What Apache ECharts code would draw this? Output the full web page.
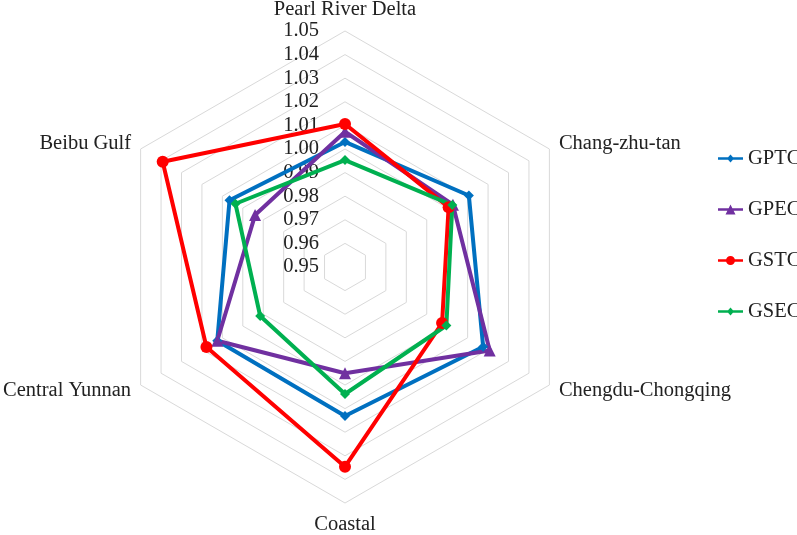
<!DOCTYPE html>
<html>
<head>
<meta charset="utf-8">
<script src="https://cdn.jsdelivr.net/npm/echarts@6/dist/echarts.min.js"></script>
<style>html,body{margin:0;padding:0;background:#fff}#c{width:797px;height:535px}</style>
</head>
<body>
<div id="c"></div>
<script>
// Categories in clockwise order starting from the top
const categories = ['Pearl River Delta', 'Chang-zhu-tan', 'Chengdu-Chongqing', 'Coastal', 'Central Yunnan', 'Beibu Gulf'];
const seriesNames = ['GPTC', 'GPEC', 'GSTC', 'GSEC'];
const GPTC = [1.0030, 1.0106, 1.0176, 1.0131, 1.0125, 1.0065];
const GPEC = [1.0073, 1.0028, 1.0208, 0.9950, 1.0125, 0.9940];
const GSTC = [1.0106, 1.0007, 0.9975, 1.0346, 1.0178, 1.0392];
const GSEC = [0.9953, 1.0025, 0.9996, 1.0038, 0.9915, 1.0036];
const axisMin = 0.95, axisMax = 1.05, axisSplits = 10;

const FONT = '"Liberation Serif", "Times New Roman", serif';
const FS = 20.5;
const TEXT = '#222';
const colors = ['#0070C0', '#7030A0', '#FF0000', '#00B050'];
const symbols = ['diamond', 'triangle', 'circle', 'diamond'];
const symbolSizes = [10, 12, 12, 10];
const legendIcons = [
  'path://M0,3.8L25,3.8L25,6.2L0,6.2Z M12.5,1L16,5L12.5,9L9,5Z',
  'path://M0,3.8L25,3.8L25,6.2L0,6.2Z M12.5,0L17.5,10L7.5,10Z',
  'path://M0,3.8L25,3.8L25,6.2L0,6.2Z M8,5A4.5,4.5 0 1,1 17,5A4.5,4.5 0 1,1 8,5Z',
  'path://M0,3.8L25,3.8L25,6.2L0,6.2Z M12.5,1L16,5L12.5,9L9,5Z'
];

// ECharts radar runs counter-clockwise; reorder so the picture runs clockwise
const order = [0, 5, 4, 3, 2, 1];
const reorder = arr => order.map(i => arr[i]);
const allValues = [GPTC, GPEC, GSTC, GSEC];

const indicator = order.map((i, k) => {
  const ind = { name: categories[i], min: axisMin, max: axisMax };
  if (k === 0) {
    ind.axisLabel = {
      show: true, margin: 26, color: TEXT, fontFamily: FONT, fontSize: FS,
      showMinLabel: true, showMaxLabel: true,
      formatter: v => Number(v).toFixed(2)
    };
  }
  return ind;
});

const chart = echarts.init(document.getElementById('c'), null, { renderer: 'canvas' });
chart.setOption({
  backgroundColor: '#fff',
  animation: false,
  color: colors,
  legend: {
    orient: 'vertical',
    left: 713,
    top: 143,
    itemWidth: 25,
    itemHeight: 10,
    itemGap: 30,
    textStyle: { color: TEXT, fontFamily: FONT, fontSize: FS, lineHeight: 20 },
    data: seriesNames.map((n, i) => ({ name: n, icon: legendIcons[i] }))
  },
  radar: {
    center: [345, 267],
    radius: 236,
    startAngle: 90,
    splitNumber: axisSplits,
    shape: 'polygon',
    nameGap: 11,
    axisName: { color: TEXT, fontFamily: FONT, fontSize: FS },
    axisLine: { show: false },
    axisTick: { show: false },
    axisLabel: { show: false },
    splitLine: { lineStyle: { color: '#d9d9d9', width: 1 } },
    splitArea: { show: false },
    indicator: indicator
  },
  series: [{
    type: 'radar',
    data: seriesNames.map((n, i) => ({
      name: n,
      value: reorder(allValues[i]),
      symbol: symbols[i],
      symbolSize: symbolSizes[i],
      lineStyle: { color: colors[i], width: 4 },
      itemStyle: { color: colors[i] }
    }))
  }]
});
</script>
</body>
</html>
